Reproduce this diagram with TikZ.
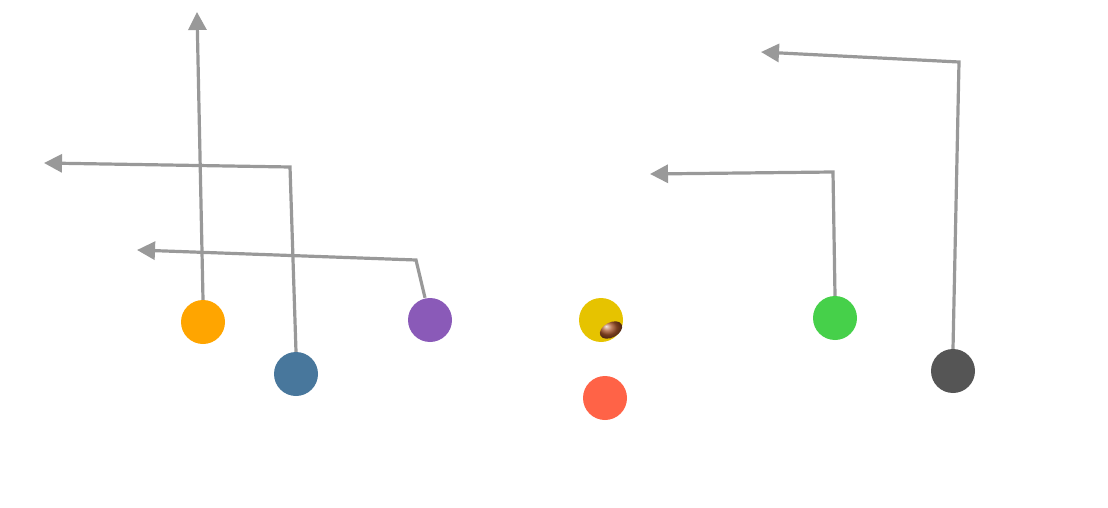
\documentclass[tikz,border=0pt]{standalone}
\usetikzlibrary{arrows.meta}
\definecolor{route}{HTML}{999999}
\definecolor{cOrange}{HTML}{FFA500}
\definecolor{cBlue}{HTML}{48779C}
\definecolor{cPurple}{HTML}{8A5AB8}
\definecolor{cYellow}{HTML}{E6C300}
\definecolor{cRed}{HTML}{FF6347}
\definecolor{cGreen}{HTML}{46D04A}
\definecolor{cDark}{HTML}{555555}
\definecolor{ball}{HTML}{A8552A}
\tikzset{
  player/.style={circle, minimum size=44pt, inner sep=0pt, fill=#1},
  routeline/.style={draw=route, line width=3.2pt, line join=miter, -{Triangle[length=18pt,width=18pt]}},
}
\begin{document}
\begin{tikzpicture}[x=1pt,y=-1pt]
\useasboundingbox (0,0) rectangle (1108,508);
\node[player=cOrange] (o) at (203,322) {};
\node[player=cBlue] (b) at (296,374) {};
\node[player=cPurple] (p) at (430,320) {};
\node[player=cYellow] (y) at (601,320) {};
\node[player=cRed] (r) at (605,398) {};
\node[player=cGreen] (g) at (835,318) {};
\node[player=cDark] (d) at (953,371) {};
\shade[ball color=ball, rotate around={28:(611,330)}] (611,330) ellipse (12pt and 7.5pt);
\coordinate (oT) at (197,12);
\coordinate (b1) at (290,167);
\coordinate (bT) at (44,163);
\coordinate (p1) at (416,260);
\coordinate (pT) at (137,250);
\coordinate (g1) at (833,172);
\coordinate (gT) at (650,174);
\coordinate (d1) at (959,62);
\coordinate (dT) at (761,52);
\draw[routeline] (o.north) -- (oT);
\draw[routeline] (b.north) -- (b1) -- (bT);
\draw[routeline] (p.north) ++(-5,0) -- (p1) -- (pT);
\draw[routeline] (g.north) -- (g1) -- (gT);
\draw[routeline] (d.north) -- (d1) -- (dT);
\end{tikzpicture}
\end{document}
